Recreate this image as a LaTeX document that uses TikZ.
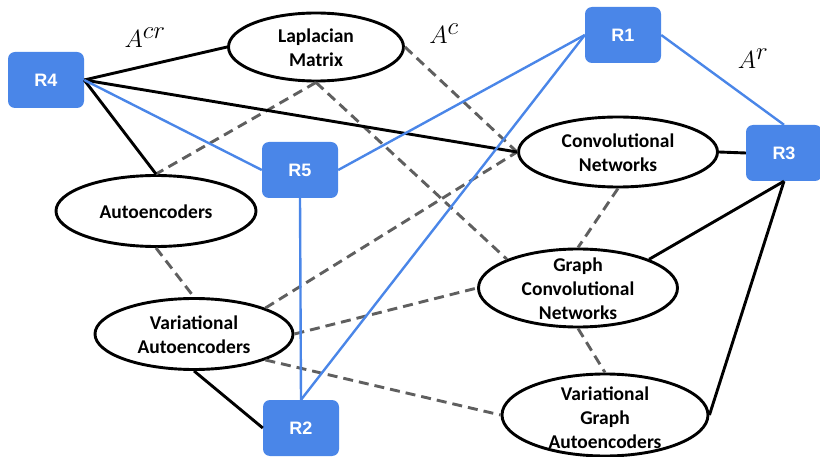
\documentclass[tikz,border=0pt]{standalone}
\usepackage{fontspec}
\setmainfont{Carlito}
\newfontfamily\rfont{Liberation Sans}
\usetikzlibrary{shapes.geometric}
\definecolor{rblue}{HTML}{4A86E8}
\definecolor{dgray}{HTML}{5F5F5F}
\tikzset{
  rbox/.style={draw=none, fill=rblue, rounded corners=7pt, minimum width=76pt, minimum height=56pt, inner sep=0pt, text=white, font=\rfont\bfseries\fontsize{18}{20}\selectfont},
  ell/.style={draw=black, line width=2.9pt, ellipse, inner sep=0pt},
  etext/.style={align=center, inner sep=0pt, font=\bfseries\fontsize{19.5}{24}\selectfont},
  solidedge/.style={draw=black, line width=2.9pt},
  blueedge/.style={draw=rblue, line width=2.4pt},
  dashedge/.style={draw=dgray, line width=2.9pt, dash pattern=on 10pt off 6pt},
  mlabel/.style={inner sep=0pt, font=\fontsize{33}{38}\selectfont}
}
\begin{document}
\begin{tikzpicture}[x=1pt, y=-1pt]
\useasboundingbox (0,0) rectangle (820,457);
% boxes
\node[rbox] (r4) at (46,80) {R4};
\node[rbox] (r5) at (300,170) {R5};
\node[rbox] (r1) at (623,35) {R1};
\node[rbox] (r3) at (784,153) {R3};
\node[rbox] (r2) at (301,428) {R2};
% ellipses
\node[ell, minimum width=175pt, minimum height=68pt] (lap) at (316,47) {};
\node[ell, minimum width=200pt, minimum height=71pt] (ae) at (156,211) {};
\node[ell, minimum width=199pt, minimum height=70pt] (conv) at (618,152) {};
\node[ell, minimum width=199pt, minimum height=78pt] (gcn) at (578,288) {};
\node[ell, minimum width=198pt, minimum height=71pt] (va) at (194,334) {};
\node[ell, minimum width=206pt, minimum height=82pt] (vgae) at (605,415) {};
% dashed edges
\draw[dashedge] (lap.south) -- (ae.north);
\draw[dashedge] (lap.south) -- (gcn.158);
\draw[dashedge] (lap.east) -- (conv.west);
\draw[dashedge] (conv.south) -- (gcn.north);
\draw[dashedge] (gcn.south) -- (vgae.north);
\draw[dashedge] (ae.south) -- (va.north);
\draw[dashedge] (va.20) -- (conv.west);
\draw[dashedge] (va.east) -- (gcn.west);
\draw[dashedge] (va.340) -- (vgae.west);
% solid black edges
\draw[solidedge] (r4.east) -- (lap.west);
\draw[solidedge] (r4.east) -- (ae.north);
\draw[solidedge] (r4.east) -- (conv.west);
\draw[solidedge] (conv.east) -- (r3.west);
\draw[solidedge] (gcn.22) -- (r3.south);
\draw[solidedge] (vgae.east) -- (r3.south);
\draw[solidedge] (va.south) -- (r2.west);
% blue edges
\draw[blueedge] (r4.east) -- (r5.west);
\draw[blueedge] (r5.east) -- (r1.west);
\draw[blueedge] (r1.west) -- (r2.north);
\draw[blueedge] (r5.south) -- (r2.north);
\draw[blueedge] (r1.east) -- (r3.north);
% texts
\node[etext] (lapT) at (316,48) {Laplacian\\Matrix};
\node[etext] (aeT) at (156,212) {Autoencoders};
\node[etext] (convT) at (618,153) {Convolutional\\Networks};
\node[etext] (gcnT) at (578,289) {Graph\\Convolutional\\Networks};
\node[etext] (vaT) at (194,335) {Variational\\Autoencoders};
\node[etext] (vgaeT) at (605,418) {Variational\\Graph\\Autoencoders};
% math labels
\node[mlabel] (acr) at (145,38) {$A^{cr}$};
\node[mlabel] (ac) at (444,34) {$A^{c}$};
\node[mlabel] (ar) at (753,59) {$A^{r}$};
\end{tikzpicture}
\end{document}
